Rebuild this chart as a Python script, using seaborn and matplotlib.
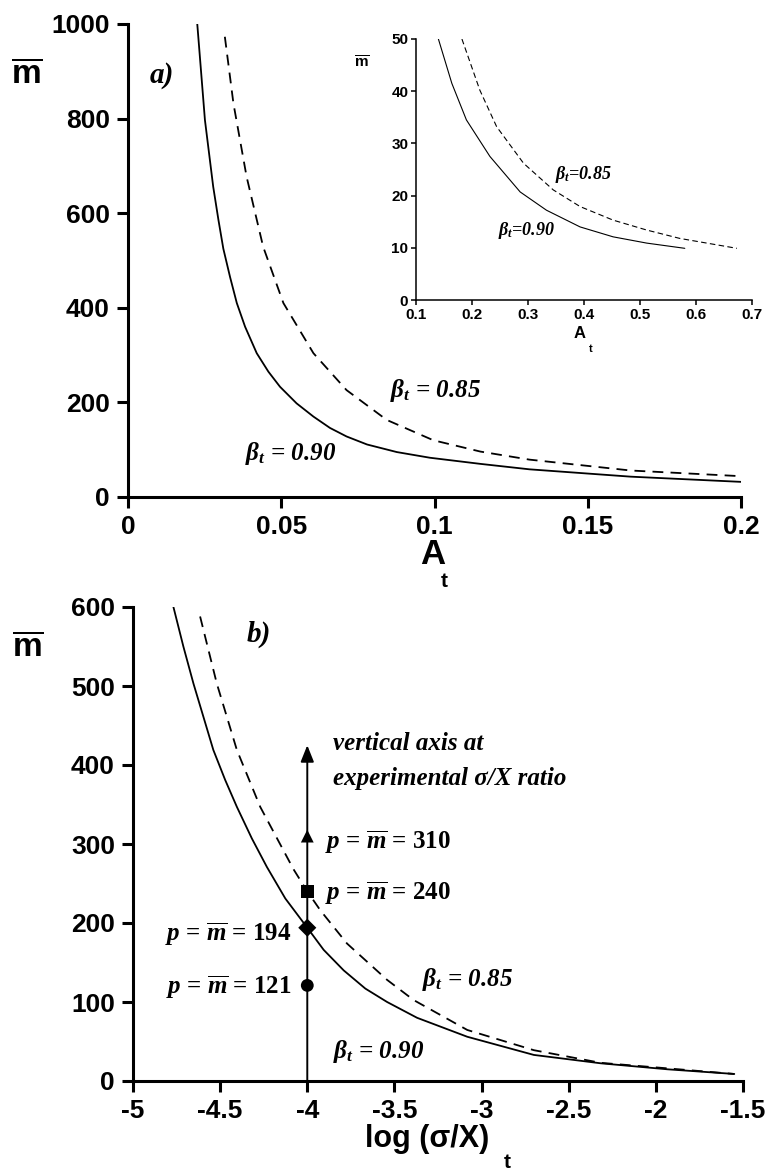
import matplotlib
matplotlib.use("Agg")
import matplotlib.pyplot as plt
import seaborn as sns
import pandas as pd

# panel a) m-bar vs A_t, two power curves
a_A_090 = [0.0226, 0.0251, 0.0278, 0.0295, 0.0311, 0.0333, 0.0355, 0.0382, 0.042, 0.0458, 0.0496,
           0.055, 0.0605, 0.0659, 0.0713, 0.078, 0.0877, 0.0985, 0.115, 0.131, 0.164, 0.2]
a_m_090 = [1000, 797, 656, 586, 525, 465, 410, 360, 304, 265, 233,
           198, 170, 146, 128, 111, 95, 83, 70, 58.5, 43, 32]
a_A_085 = [0.0316, 0.0344, 0.0387, 0.0441, 0.0507, 0.0605, 0.0713, 0.0844, 0.0996, 0.115, 0.131, 0.164, 0.2]
a_m_085 = [973, 832, 677, 529, 410, 304, 226, 163, 120, 96, 79, 56, 44]

# inset (zoom of panel a)
in_A_090 = [0.14, 0.164, 0.19, 0.232, 0.286, 0.333, 0.393, 0.452, 0.512, 0.58]
in_m_090 = [50, 41.5, 34.5, 27.5, 20.7, 17.2, 14.0, 12.1, 10.9, 9.9]
in_A_085 = [0.182, 0.214, 0.244, 0.292, 0.345, 0.393, 0.452, 0.512, 0.571, 0.673]
in_m_085 = [50, 40.2, 33.2, 26.2, 21.1, 17.9, 15.3, 13.4, 11.8, 9.9]

# panel b) m-bar vs log(sigma/X)_t
b_L_090 = [-4.768, -4.711, -4.653, -4.596, -4.539, -4.471, -4.404, -4.318, -4.232, -4.126, -4.0,
           -3.906, -3.791, -3.667, -3.542, -3.37, -3.082, -2.70, -2.316, -1.933, -1.55]
b_m_090 = [600, 550, 503, 461, 419, 381, 347, 307, 271, 231, 194,
           166, 140, 117, 100, 80, 56, 33, 22.4, 14.8, 8.9]
b_L_085 = [-4.615, -4.519, -4.404, -4.27, -4.079, -4.0, -3.925, -3.772, -3.542, -3.39, -3.082, -2.70, -2.316, -1.933, -1.55]
b_m_085 = [588, 503, 419, 347, 268, 240, 216, 174, 128, 102.5, 64.6, 39, 23, 16, 8.9]

# experimental points on the vertical axis
exp_L = [-4, -4, -4, -4]
exp_m = [310, 240, 194, 121]
exp_mark = ["tri", "sq", "dia", "circ"]

sns.set_style("ticks")
plt.rcParams["font.family"] = ["Liberation Sans", "DejaVu Sans"]
plt.rcParams["font.weight"] = "bold"
plt.rcParams["text.color"] = "black"
plt.rcParams["mathtext.fontset"] = "custom"
plt.rcParams["mathtext.it"] = "Liberation Serif:italic:bold"
plt.rcParams["mathtext.rm"] = "Liberation Serif:bold"
plt.rcParams["mathtext.bf"] = "Liberation Sans:bold"
plt.rcParams["axes.unicode_minus"] = False

W, H = 768, 1172
fig = plt.figure(figsize=(7.68, 11.72), dpi=100)


def box(l, t, r, b):
    return [l / W, 1 - b / H, (r - l) / W, (b - t) / H]


def style_axes(ax, lw, tlen, size, pad):
    sns.despine(ax=ax)
    for s in ("left", "bottom"):
        ax.spines[s].set_linewidth(lw)
        ax.spines[s].set_color("black")
    ax.tick_params(direction="out", length=tlen, width=lw, labelsize=size,
                   pad=pad, colors="black")
    ax.set_xlabel("")
    ax.set_ylabel("")


serif = dict(family="Liberation Serif", style="italic", weight="bold", color="black")
dash = (0, (6, 4))

# ---- panel a ----
ax_a = fig.add_axes(box(128, 24, 741, 497))
sns.lineplot(x=a_A_090, y=a_m_090, ax=ax_a, color="black", lw=1.3, sort=False, estimator=None)
sns.lineplot(x=a_A_085, y=a_m_085, ax=ax_a, color="black", lw=1.3, linestyle=dash, sort=False, estimator=None)
ax_a.set_xlim(0, 0.2)
ax_a.set_ylim(0, 1000)
ax_a.set_xticks([0, 0.05, 0.1, 0.15, 0.2], ["0", "0.05", "0.1", "0.15", "0.2"])
ax_a.set_yticks(range(0, 1001, 200))
style_axes(ax_a, 2.2, 8, 19, 5)
ax_a.text(0.0111, 892, "a)", fontsize=21, va="center", ha="center", **serif)
ax_a.text(0.0382, 93, r"$\beta_t$ = 0.90", fontsize=18, va="center", ha="left", **serif)
ax_a.text(0.0855, 226, r"$\beta_t$ = 0.85", fontsize=18, va="center", ha="left", **serif)

# ---- inset ----
ax_in = fig.add_axes(box(416, 39, 752, 300))
ax_in.patch.set_alpha(0)
sns.lineplot(x=in_A_090, y=in_m_090, ax=ax_in, color="black", lw=0.8, sort=False, estimator=None)
sns.lineplot(x=in_A_085, y=in_m_085, ax=ax_in, color="black", lw=0.8, linestyle=(0, (5, 3)), sort=False, estimator=None)
ax_in.set_xlim(0.1, 0.7)
ax_in.set_ylim(0, 50)
ax_in.set_xticks([0.1, 0.2, 0.3, 0.4, 0.5, 0.6, 0.7])
ax_in.set_yticks(range(0, 51, 10))
style_axes(ax_in, 1.1, 3.5, 11, 1)
ax_in.tick_params(axis="x", pad=2.5)
ax_in.tick_params(axis="y", pad=2)
ax_in.text(0.246, 13.4, r"$\beta_t$=0.90", fontsize=13, va="center", ha="left", **serif)
ax_in.text(0.348, 24, r"$\beta_t$=0.85", fontsize=13, va="center", ha="left", **serif)

# ---- panel b ----
ax_b = fig.add_axes(box(133, 607, 743, 1081))
sns.lineplot(x=b_L_090, y=b_m_090, ax=ax_b, color="black", lw=1.3, sort=False, estimator=None)
sns.lineplot(x=b_L_085, y=b_m_085, ax=ax_b, color="black", lw=1.3, linestyle=dash, sort=False, estimator=None)
ax_b.annotate("", xy=(-4, 425), xytext=(-4, 0),
              arrowprops=dict(arrowstyle="-|>,head_length=1.0,head_width=0.4",
                              color="black", lw=1.4, shrinkA=0, shrinkB=0))
pts = pd.DataFrame({"L": exp_L, "m": exp_m, "mark": exp_mark})
sns.scatterplot(data=pts, x="L", y="m", style="mark", ax=ax_b, color="black", s=85,
                markers={"tri": "^", "sq": "s", "dia": "D", "circ": "o"},
                legend=False, zorder=5, edgecolor="black", linewidth=0)
ax_b.set_xlim(-5, -1.5)
ax_b.set_ylim(0, 600)
ax_b.set_xticks([-5, -4.5, -4, -3.5, -3, -2.5, -2, -1.5],
                ["-5", "-4.5", "-4", "-3.5", "-3", "-2.5", "-2", "-1.5"])
ax_b.set_yticks(range(0, 601, 100))
style_axes(ax_b, 2.2, 8, 19, 5)
ax_b.text(-4.28, 565, "b)", fontsize=21, va="center", ha="center", **serif)
ax_b.text(-3.85, 37, r"$\beta_t$ = 0.90", fontsize=18, va="center", ha="left", **serif)
ax_b.text(-3.34, 128, r"$\beta_t$ = 0.85", fontsize=18, va="center", ha="left", **serif)
ax_b.text(-3.85, 427, "vertical axis at", fontsize=18, va="center", ha="left", **serif)
ax_b.text(-3.85, 383, "experimental σ/X ratio", fontsize=18, va="center", ha="left", **serif)
ptxt = dict(family="Liberation Serif", weight="bold", color="black", fontsize=18)
ax_b.text(-3.9, 302, r"$p$ = $\overline{m}$ = 310", va="center", ha="left", **ptxt)
ax_b.text(-3.9, 238, r"$p$ = $\overline{m}$ = 240", va="center", ha="left", **ptxt)
ax_b.text(-4.09, 185, r"$p$ = $\overline{m}$ = 194", va="center", ha="right", **ptxt)
ax_b.text(-4.09, 118, r"$p$ = $\overline{m}$ = 121", va="center", ha="right", **ptxt)

# ---- axis titles ----
fig.text(27 / W, 1 - 75 / H, r"$\overline{\mathbf{m}}$", fontsize=24, ha="center", va="center")
fig.text(28 / W, 1 - 648 / H, r"$\overline{\mathbf{m}}$", fontsize=24, ha="center", va="center")
fig.text(362 / W, 1 - 63 / H, r"$\overline{\mathbf{m}}$", fontsize=11, ha="center", va="center")
fig.text(433 / W, 1 - 555 / H, "A", fontsize=25, ha="center", va="center")
fig.text(444 / W, 1 - 582 / H, "t", fontsize=15, ha="center", va="center")
fig.text(580 / W, 1 - 334 / H, "A", fontsize=12, ha="center", va="center")
fig.text(591 / W, 1 - 349 / H, "t", fontsize=8, ha="center", va="center")
fig.text(427 / W, 1 - 1139 / H, "log (σ/X)", fontsize=22, ha="center", va="center")
fig.text(507 / W, 1 - 1163 / H, "t", fontsize=15, ha="center", va="center")

fig.savefig("out.png", dpi=100, facecolor="white")
